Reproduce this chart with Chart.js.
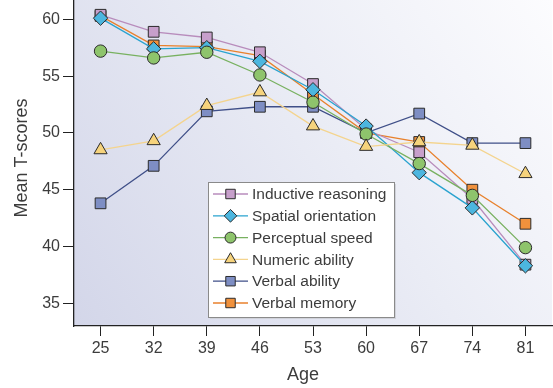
<!DOCTYPE html>
<html>
<head>
<meta charset="utf-8">
<script src="https://cdn.jsdelivr.net/npm/chart.js@4/dist/chart.umd.min.js"></script>
<style>
  html, body { margin: 0; padding: 0; background: #ffffff; }
  #wrap { width: 553px; height: 388px; }
</style>
</head>
<body>
<div id="wrap"><canvas id="myChart" width="553" height="388"></canvas></div>
<script>
// values
var ages = ['25', '32', '39', '46', '53', '60', '67', '74', '81'];
var inductive = [60.4, 58.9, 58.4, 57.1, 54.3, 50.3, 48.3, 44.2, 38.4];
var spatial = [60.1, 57.4, 57.5, 56.3, 53.8, 50.6, 46.5, 43.4, 38.3];
var perceptual = [57.2, 56.6, 57.1, 55.1, 52.7, 49.9, 47.3, 44.5, 39.9];
var numeric = [48.5, 49.3, 52.4, 53.6, 50.6, 48.8, 49.2, 48.9, 46.4];
var verbalAbility = [43.8, 47.1, 51.9, 52.3, 52.3, 50.0, 51.7, 49.1, 49.1];
var verbalMemory = [60.3, 57.7, 57.6, 56.8, 53.4, 50.0, 49.2, 45.0, 42.0];
var yTicks = [35, 40, 45, 50, 55, 60];

var textColor = '#3c3c3c';
var fontName = '"Liberation Sans", Arial, Helvetica, sans-serif';

function makeSeries(label, data, style, fill, line, radius, order) {
    return {
        label: label,
        data: data,
        order: order,
        borderColor: line,
        borderWidth: 1.3,
        backgroundColor: fill,
        pointStyle: style,
        pointRadius: radius,
        pointBackgroundColor: fill,
        pointBorderColor: '#2b2b2b',
        pointBorderWidth: 1,
        tension: 0,
        fill: false,
        clip: false
    };
}

// shaded plot background, lighter toward the top right
var backgroundPlugin = {
    id: 'plotBackground',
    beforeDraw: function (chart) {
        var ctx = chart.ctx;
        var a = chart.chartArea;
        ctx.save();
        ctx.fillStyle = '#ffffff';
        ctx.fillRect(0, 0, chart.width, chart.height);
        var g = ctx.createLinearGradient(a.left, a.bottom, a.right, a.top);
        g.addColorStop(0, '#d3d6e9');
        g.addColorStop(0.55, '#eaecf5');
        g.addColorStop(1, '#fcfcfe');
        ctx.fillStyle = g;
        ctx.fillRect(a.left, a.top, a.right - a.left, a.bottom - a.top);
        ctx.restore();
    }
};

// boxed legend inside the plot plus the two axis titles
var legendPlugin = {
    id: 'boxLegend',
    afterDraw: function (chart) {
        var ctx = chart.ctx;
        var boxX = 208, boxY = 182, boxW = 186, boxH = 135;
        ctx.save();
        ctx.fillStyle = '#d0d2da';
        ctx.fillRect(boxX + 2, boxY + 2, boxW, boxH);
        ctx.fillStyle = '#ffffff';
        ctx.fillRect(boxX, boxY, boxW, boxH);
        ctx.strokeStyle = '#8a8a8a';
        ctx.lineWidth = 1;
        ctx.strokeRect(boxX + 0.5, boxY + 0.5, boxW, boxH);

        ctx.font = '15.5px ' + fontName;
        ctx.textBaseline = 'middle';
        ctx.textAlign = 'left';
        var sets = chart.data.datasets;
        for (var i = 0; i < sets.length; i++) {
            var ds = sets[i];
            var y = 194 + i * 21.8;
            ctx.strokeStyle = ds.borderColor;
            ctx.lineWidth = 1.3;
            ctx.beginPath();
            ctx.moveTo(213, y);
            ctx.lineTo(248, y);
            ctx.stroke();
            ctx.fillStyle = ds.pointBackgroundColor;
            ctx.strokeStyle = ds.pointBorderColor;
            ctx.lineWidth = 1;
            Chart.helpers.drawPoint(ctx, { pointStyle: ds.pointStyle, radius: ds.pointRadius * 0.88, rotation: 0, borderWidth: 1 }, 230.5, y);
            ctx.fillStyle = textColor;
            ctx.fillText(ds.label, 252, y + 1);
        }

        // axis titles
        ctx.font = '18px ' + fontName;
        ctx.fillStyle = textColor;
        ctx.textAlign = 'center';
        ctx.fillText('Age', 303, 375);
        ctx.translate(22, 158);
        ctx.rotate(-Math.PI / 2);
        ctx.fillText('Mean T-scores', 0, 0);
        ctx.restore();
    }
};

function drawChart() {
    var canvas = document.getElementById('myChart');
    new Chart(canvas, {
        type: 'line',
        data: {
            labels: ages,
            datasets: [
                makeSeries('Inductive reasoning', inductive, 'rect', '#c79fcb', '#b88cbc', 7.6, 4),
                makeSeries('Spatial orientation', spatial, 'rectRot', '#4cb6df', '#2aa3cf', 7.2, 2),
                makeSeries('Perceptual speed', perceptual, 'circle', '#8ec46c', '#78b160', 6.2, 1),
                makeSeries('Numeric ability', numeric, 'triangle', '#f6d37c', '#f4d48e', 7.6, 0),
                makeSeries('Verbal ability', verbalAbility, 'rect', '#7e8ec4', '#3f4f88', 7.6, 3),
                makeSeries('Verbal memory', verbalMemory, 'rect', '#f0913c', '#e8812c', 7.6, 5)
            ]
        },
        options: {
            responsive: false,
            animation: false,
            layout: { autoPadding: false, padding: { top: 0, right: 1, left: 0, bottom: 0 } },
            plugins: {
                legend: { display: false },
                tooltip: { enabled: false }
            },
            scales: {
                x: {
                    type: 'category',
                    offset: true,
                    afterFit: function (scale) {
                        scale.height = 62;
                        scale.paddingLeft = 0;
                        scale.paddingRight = 0;
                    },
                    grid: { drawOnChartArea: false, tickLength: 10, color: '#222', offset: false },
                    border: { color: '#222', width: 1.3 },
                    ticks: { color: textColor, font: { size: 16, family: fontName }, padding: 3, maxRotation: 0 }
                },
                y: {
                    min: 33,
                    max: 61.7,
                    afterFit: function (scale) {
                        scale.width = 74;
                        scale.paddingTop = 0;
                        scale.paddingBottom = 0;
                    },
                    afterBuildTicks: function (scale) {
                        scale.ticks = yTicks.map(function (v) { return { value: v }; });
                    },
                    grid: { drawOnChartArea: false, tickLength: 11, color: '#222' },
                    border: { color: '#222', width: 1.3 },
                    ticks: { color: textColor, font: { size: 16, family: fontName }, padding: 3 }
                }
            }
        },
        plugins: [backgroundPlugin, legendPlugin]
    });
}

drawChart();
</script>
</body>
</html>
